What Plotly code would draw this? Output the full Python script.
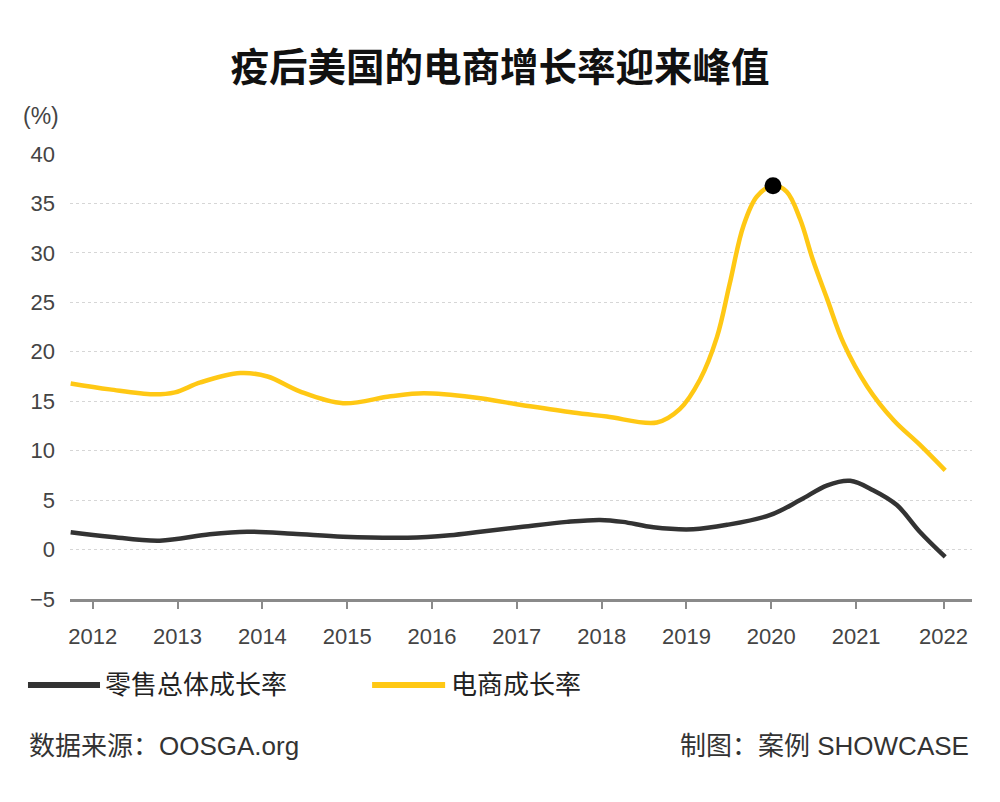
import plotly.graph_objects as go

# ---------------- data ----------------
title_text = "疫后美国的电商增长率迎来峰值"

ecom_x = [2011.74, 2012.20, 2012.71, 2012.97, 2013.27, 2013.74, 2014.06, 2014.44,
          2014.95, 2015.51, 2015.90, 2016.48, 2017.07, 2017.66, 2018.06, 2018.65,
          2018.92, 2019.16, 2019.36, 2019.51, 2019.67, 2019.83, 2020.02, 2020.18,
          2020.34, 2020.49, 2020.66, 2020.85, 2021.13, 2021.44, 2021.75, 2022.05]
ecom_y = [16.8, 16.2, 15.7, 15.9, 16.9, 17.85, 17.5, 16.0,
          14.8, 15.5, 15.8, 15.4, 14.6, 13.85, 13.45, 12.85,
          14.2, 17.2, 21.5, 26.9, 32.7, 35.7, 36.8, 36.2,
          33.4, 29.3, 25.3, 20.9, 16.5, 13.1, 10.6, 8.0]

retail_x = [2011.74, 2012.20, 2012.79, 2013.38, 2013.82, 2014.36, 2014.95, 2015.71,
            2016.21, 2016.57, 2017.07, 2017.59, 2017.98, 2018.25, 2018.61, 2019.08,
            2019.48, 2019.99, 2020.34, 2020.66, 2020.93, 2021.20, 2021.48, 2021.75,
            2022.05]
retail_y = [1.75, 1.3, 0.9, 1.55, 1.8, 1.6, 1.3, 1.2,
            1.45, 1.8, 2.3, 2.8, 3.0, 2.8, 2.25, 2.05,
            2.5, 3.5, 5.0, 6.5, 6.95, 6.0, 4.5, 1.8,
            -0.75]

x_tick_vals = [2012, 2013, 2014, 2015, 2016, 2017, 2018, 2019, 2020, 2021, 2022.03]
x_tick_text = ["2012", "2013", "2014", "2015", "2016", "2017", "2018", "2019", "2020", "2021", "2022"]
y_tick_vals = [-5, 0, 5, 10, 15, 20, 25, 30, 35, 40]

series_names = ["零售总体成长率", "电商成长率"]
source_text = "数据来源：OOSGA.org"
credit_text = "制图：案例 SHOWCASE"
unit_text = "(%)"

# ---------------- styling ----------------
OFF = 8  # the page body margin shifts the figure by 8px
W, H = 1000, 802
# target page-pixel plot box: x 70..971.7, y 154..599
PX0, PX1, PY0, PY1 = 70, 971.7, 154, 599
L = PX0 - OFF
T = PY0 - OFF
R = W - (PX1 - OFF)
B = H - (PY1 - OFF)
PW = PX1 - PX0
PH = PY1 - PY0
BLACK = "#333333"
YELLOW = "#FFC814"
FONT = "Liberation Sans, Noto Sans CJK SC, sans-serif"


def px_x(p):
    return (p - PX0) / PW


def px_y(p):
    return (PY1 - p) / PH


fig = go.Figure()

fig.add_trace(go.Scatter(
    x=retail_x, y=retail_y, mode="lines", name=series_names[0],
    line=dict(color=BLACK, width=4.5, shape="spline", smoothing=1.0),
    showlegend=False, hoverinfo="skip"))

fig.add_trace(go.Scatter(
    x=ecom_x, y=ecom_y, mode="lines", name=series_names[1],
    line=dict(color=YELLOW, width=4.5, shape="spline", smoothing=1.0),
    showlegend=False, hoverinfo="skip"))

peak_i = max(range(len(ecom_y)), key=lambda i: ecom_y[i])
fig.add_trace(go.Scatter(
    x=[ecom_x[peak_i]], y=[ecom_y[peak_i]], mode="markers",
    marker=dict(color="#000000", size=17), showlegend=False, hoverinfo="skip",
    cliponaxis=False))

# manual legend
legend_y = px_y(685)
shapes = [
    dict(type="line", xref="paper", yref="paper", x0=px_x(28), x1=px_x(100),
         y0=legend_y, y1=legend_y, line=dict(color=BLACK, width=6)),
    dict(type="line", xref="paper", yref="paper", x0=px_x(372), x1=px_x(445),
         y0=legend_y, y1=legend_y, line=dict(color=YELLOW, width=6)),
]

annotations = [
    dict(text=series_names[0], xref="paper", yref="paper", x=px_x(103), y=legend_y,
         xanchor="left", yanchor="middle", showarrow=False,
         font=dict(size=26, color="#222222", family=FONT)),
    dict(text=series_names[1], xref="paper", yref="paper", x=px_x(449), y=legend_y,
         xanchor="left", yanchor="middle", showarrow=False,
         font=dict(size=26, color="#222222", family=FONT)),
    dict(text=source_text, xref="paper", yref="paper", x=px_x(27), y=px_y(746),
         xanchor="left", yanchor="middle", showarrow=False,
         font=dict(size=26, color="#333333", family=FONT)),
    dict(text=credit_text, xref="paper", yref="paper", x=px_x(971), y=px_y(746),
         xanchor="right", yanchor="middle", showarrow=False,
         font=dict(size=26, color="#333333", family=FONT)),
    dict(text=unit_text, xref="paper", yref="paper", x=px_x(41), y=px_y(116),
         xanchor="center", yanchor="middle", showarrow=False,
         font=dict(size=23, color="#444444", family=FONT)),
]

fig.update_layout(
    width=W, height=H,
    margin=dict(l=L, r=R, t=T, b=B),
    paper_bgcolor="white", plot_bgcolor="white",
    title=dict(text="<b>" + title_text + "</b>", x=(500 - OFF) / W, xanchor="center",
               y=1 - (68 - OFF) / H, yanchor="middle",
               font=dict(size=38.5, color="#111111", family="Noto Sans CJK SC, sans-serif")),
    font=dict(family=FONT, color="#444444"),
    shapes=shapes, annotations=annotations,
    showlegend=False,
)

fig.update_xaxes(
    range=[2011.732, 2022.366],
    tickvals=x_tick_vals, ticktext=x_tick_text,
    showgrid=False, zeroline=False,
    showline=True, linecolor="#8a8a8a", linewidth=2.5,
    ticks="outside", ticklen=7, tickwidth=2, tickcolor="#8a8a8a",
    ticklabelstandoff=9,
    tickfont=dict(size=22, color="#444444", family=FONT),
)

fig.update_yaxes(
    range=[-5, 40],
    tickvals=y_tick_vals,
    showgrid=True, gridcolor="#d6d6d6", gridwidth=1, griddash="dot",
    zeroline=False, showline=False, ticks="",
    ticklabelstandoff=14,
    tickfont=dict(size=22, color="#444444", family=FONT),
)

fig.write_html("out.html")
